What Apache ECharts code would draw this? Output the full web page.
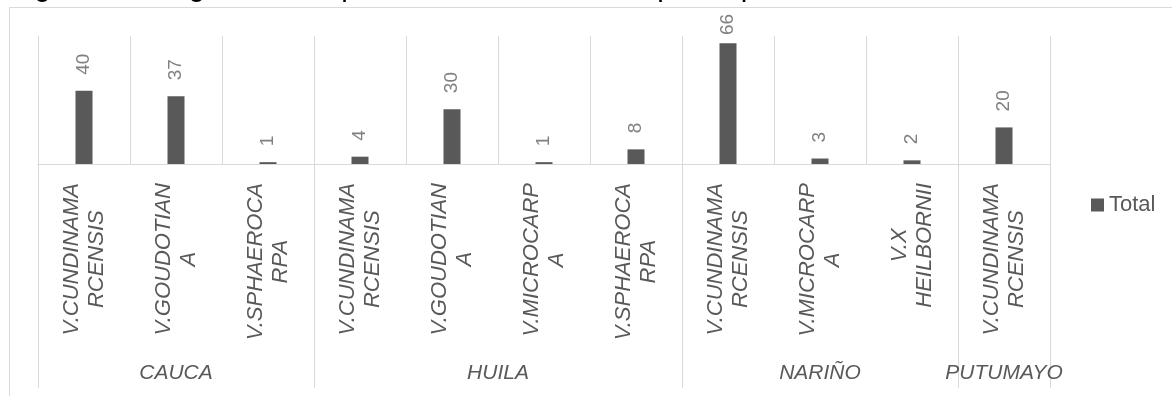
<!DOCTYPE html>
<html><head><meta charset="utf-8">
<script src="https://cdn.jsdelivr.net/npm/echarts@6/dist/echarts.min.js"></script>
<style>html,body{margin:0;padding:0;background:#fff;overflow:hidden}#c{width:1172px;height:396px}</style>
</head><body><div id="c"></div>
<script>
// ---- data ----
const titleText = 'Figura 12. Registro de especies de Vasconcellea por departamento';
const species = ['V.CUNDINAMARCENSIS','V.GOUDOTIANA','V.SPHAEROCARPA',
                 'V.CUNDINAMARCENSIS','V.GOUDOTIANA','V.MICROCARPA','V.SPHAEROCARPA',
                 'V.CUNDINAMARCENSIS','V.MICROCARPA','V.X HEILBORNII',
                 'V.CUNDINAMARCENSIS'];
const totals = [40, 37, 1, 4, 30, 1, 8, 66, 3, 2, 20];
const departments = ['CAUCA', 'HUILA', 'NARIÑO', 'PUTUMAYO'];
const departmentSizes = [3, 4, 3, 1];
const seriesName = 'Total';

// ---- derived ----
const bounds = [0];
departmentSizes.forEach(function (n) { bounds.push(bounds[bounds.length - 1] + n); });
const centers = departmentSizes.map(function (n, i) { return bounds[i] + n / 2; });

function wrapName(s) {
  if (s.indexOf(' ') >= 0) return s.split(' ');
  const out = [];
  for (let i = 0; i < s.length; i += 11) out.push(s.slice(i, i + 11));
  return out;
}

const grey = '#595959';
const lineGrey = '#d9d9d9';
const labFont = 'Liberation Sans';
const gridTop = 36, gridH = 128, yMax = 70;

// keep the outside-end label inside the chart area (Excel behaviour)
const barData = totals.map(function (v) {
  const barTop = gridTop + gridH - v * gridH / yMax;
  const d = Math.min(16, barTop - 35);
  return d < 16 ? {value: v, label: {distance: d}} : v;
});

const chart = echarts.init(document.getElementById('c'), null, {renderer: 'canvas'});
chart.setOption({
  animation: false,
  backgroundColor: '#fff',
  graphic: [
    {type: 'rect', z: -10, silent: true,
     shape: {x: 9.5, y: 7.5, width: 1400, height: 600},
     style: {fill: 'none', stroke: lineGrey, lineWidth: 1}},
    {type: 'text', x: 10, y: 3, silent: true,
     style: {text: titleText, font: '29.5px "Liberation Sans"', fill: '#000', verticalAlign: 'bottom'}}
  ],
  legend: {
    data: [seriesName], left: 1091, top: 194, padding: 0,
    itemWidth: 13, itemHeight: 13, icon: 'rect',
    textStyle: {fontSize: 22, color: grey, fontFamily: 'Liberation Sans'}
  },
  grid: {left: 38, top: gridTop, width: 1012, height: gridH, containLabel: false},
  xAxis: [
    {
      type: 'category', data: species, position: 'bottom',
      axisLine: {show: true, lineStyle: {color: lineGrey, width: 1}},
      axisTick: {show: false},
      splitLine: {show: true, lineStyle: {color: lineGrey, width: 1}},
      axisLabel: {
        interval: 0, rotate: 90, margin: 19,
        fontFamily: labFont, fontSize: 22, fontStyle: 'italic', color: grey, lineHeight: 25,
        formatter: function (v) { return '{c|' + wrapName(v).join('}\n{c|') + '}'; },
        rich: {c: {align: 'center', fontFamily: labFont, fontSize: 22, fontStyle: 'italic', color: grey, lineHeight: 25}}
      }
    },
    {
      type: 'value', min: 0, max: bounds[bounds.length - 1], position: 'bottom',
      axisLine: {show: false},
      splitLine: {show: false},
      axisTick: {show: true, customValues: bounds, length: 224, lineStyle: {color: lineGrey, width: 1}},
      axisLabel: {
        show: true, customValues: centers, margin: 199,
        fontFamily: labFont, fontSize: 21, fontStyle: 'italic', color: grey,
        formatter: function (v) {
          const i = centers.findIndex(function (c) { return Math.abs(c - v) < 1e-6; });
          return i >= 0 ? departments[i] : '';
        }
      }
    }
  ],
  yAxis: {
    type: 'value', min: 0, max: yMax,
    axisLine: {show: true, lineStyle: {color: lineGrey}}, axisTick: {show: false},
    axisLabel: {show: false}, splitLine: {show: false}
  },
  series: [{
    name: seriesName, type: 'bar', data: barData, barWidth: 17,
    itemStyle: {color: grey},
    label: {
      show: true, position: 'top', rotate: 90, align: 'left', verticalAlign: 'middle',
      distance: 16, fontFamily: 'Liberation Sans', fontSize: 19, color: '#808080'
    }
  }]
});
</script></body></html>
